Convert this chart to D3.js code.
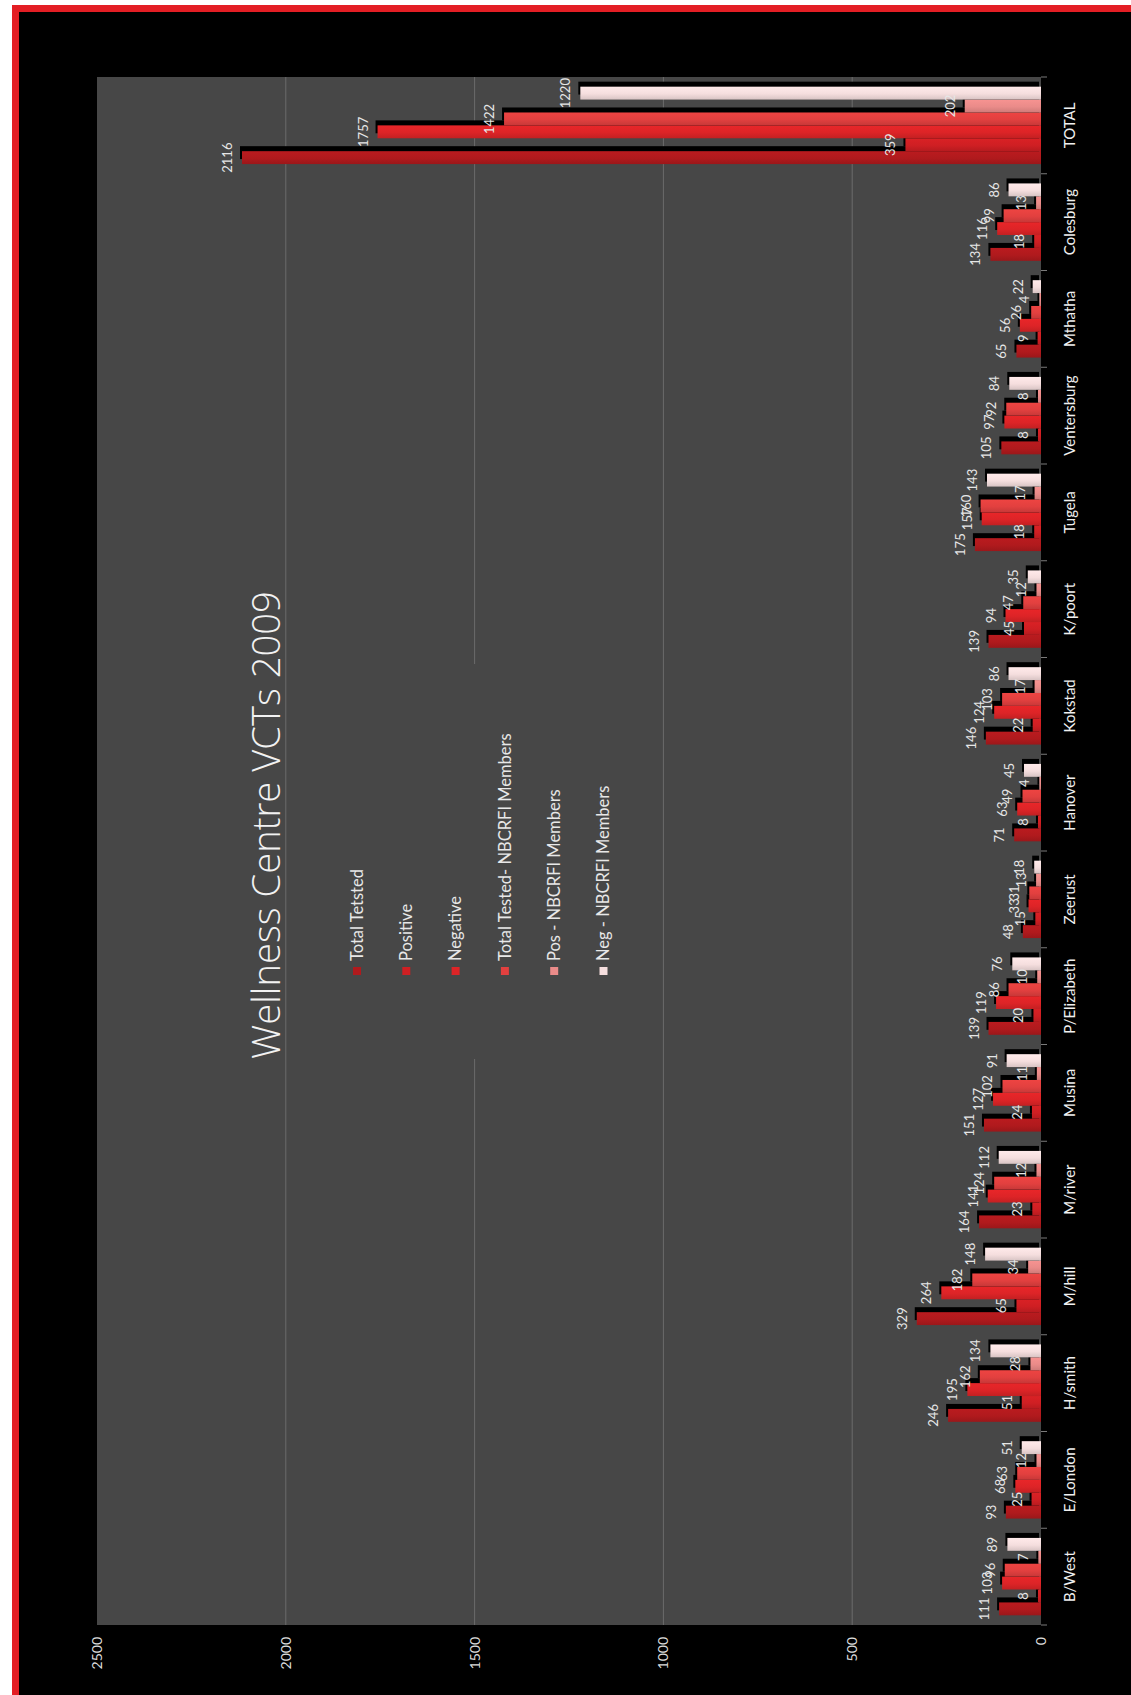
<!DOCTYPE html>
<html><head><meta charset="utf-8">
<script src="https://cdn.jsdelivr.net/npm/d3@7"></script>
<style>html,body{margin:0;padding:0;background:#fff;} svg{display:block;}</style>
</head><body>
<script>
// ---------- DATA ----------
const categories = ["B/West","E/London","H/smith","M/hill","M/river","Musina","P/Elizabeth","Zeerust","Hanover","Kokstad","K/poort","Tugela","Ventersburg","Mthatha","Colesburg","TOTAL"];
const seriesNames = ["Total Tetsted","Positive","Negative","Total Tested- NBCRFI Members","Pos - NBCRFI Members","Neg - NBCRFI Members"];
const totalTested = [111,93,246,329,164,151,139,48,71,146,139,175,105,65,134,2116];
const positive    = [8,25,51,65,23,24,20,15,8,22,45,18,8,9,18,359];
const negative    = [103,68,195,264,141,127,119,33,63,124,94,157,97,56,116,1757];
const totalNB     = [96,63,162,182,124,102,86,31,49,103,47,160,92,26,99,1422];
const posNB       = [7,12,28,34,12,11,10,13,4,17,12,17,8,4,13,202];
const negNB       = [89,51,134,148,112,91,76,18,45,86,35,143,84,22,86,1220];
const valueTicks  = [0,500,1000,1500,2000,2500];
const seriesValues = [totalTested, positive, negative, totalNB, posNB, negNB];
const seriesColors = ["#b01a1d","#cf1f23","#dd2427","#e2403f","#ea8b89","#f5dede"];

// ---------- SETUP ----------
const W = 1131, H = 1695;
const svg = d3.select("body").append("svg").attr("width", W).attr("height", H)
  .style("font-family","Lato, 'Open Sans', sans-serif");
svg.append("rect").attr("width", W).attr("height", H).attr("fill", "#fff");
svg.append("rect").attr("x", 12).attr("y", 5).attr("width", W - 12).attr("height", H - 5).attr("fill", "#e31e24");
svg.append("rect").attr("x", 19).attr("y", 12).attr("width", W - 19).attr("height", H - 12).attr("fill", "#000");

const defs = svg.append("defs");
seriesColors.forEach((c, j) => {
  const lg = defs.append("linearGradient").attr("id", "grad" + j)
    .attr("x1", 0).attr("x2", 1).attr("y1", 0).attr("y2", 0);
  lg.append("stop").attr("offset", "0%").attr("stop-color", d3.color(c).darker(0.35));
  lg.append("stop").attr("offset", "45%").attr("stop-color", c);
  lg.append("stop").attr("offset", "100%").attr("stop-color", d3.color(c).brighter(0.15));
});

// Chart drawn in landscape frame (1695 x 1131), rotated 90deg CCW
const g = svg.append("g").attr("transform", `translate(0,${H}) rotate(-90)`);
const plot = {left: 70, right: 1618, top: 97, bottom: 1041};

g.append("rect").attr("x", plot.left).attr("y", plot.top)
  .attr("width", plot.right - plot.left).attr("height", plot.bottom - plot.top)
  .attr("fill", "#474747");

const x0 = d3.scaleBand().domain(categories).range([plot.left, plot.right]).paddingInner(0).paddingOuter(0);
const x1 = d3.scaleBand().domain(d3.range(seriesNames.length)).range([0, x0.bandwidth()]).paddingInner(0).paddingOuter(0.75);
const y = d3.scaleLinear().domain([0, 2500]).range([plot.bottom, plot.top]);

// gridlines
g.append("g").selectAll("line").data(valueTicks.filter(v => v > 0 && v < 2500)).join("line")
  .attr("x1", plot.left).attr("x2", plot.right)
  .attr("y1", d => y(d)).attr("y2", d => y(d))
  .attr("stroke", "#6c6c6c").attr("stroke-width", 1);

// legend box (hides gridline)
const legendG = g.append("g");
legendG.append("rect").attr("x", 636).attr("y", 335).attr("width", 395).attr("height", 290).attr("fill", "#474747");

// bars with shadows
const barsG = g.append("g");
categories.forEach((cat, i) => {
  seriesValues.forEach((vals, j) => {
    const v = vals[i];
    const bx = x0(cat) + x1(j), bw = x1.bandwidth();
    barsG.append("rect").attr("x", bx + 5).attr("y", y(v) - 2)
      .attr("width", bw).attr("height", y(0) - y(v)).attr("fill", "#000");
    barsG.append("rect").attr("x", bx).attr("y", y(v))
      .attr("width", bw).attr("height", y(0) - y(v)).attr("fill", `url(#grad${j})`);
  });
});
// data labels
const labG = g.append("g");
categories.forEach((cat, i) => {
  seriesValues.forEach((vals, j) => {
    const v = vals[i];
    labG.append("text").attr("x", x0(cat) + x1(j) + x1.bandwidth() / 2).attr("y", y(v) - 10)
      .attr("text-anchor", "middle").attr("fill", "#e6e6e6").attr("font-size", 13).text(v);
  });
});

// category axis
const xAxis = g.append("g").attr("transform", `translate(0,${plot.bottom})`)
  .call(d3.axisBottom(x0).tickSize(0));
xAxis.select(".domain").remove();
xAxis.selectAll("text").attr("y", 29).attr("dy", "0.35em").attr("fill", "#f0f0f0")
  .attr("font-size", 15).style("font-family", "Lato, sans-serif");
const bounds = categories.map(c => x0(c)).concat([plot.right]);
g.append("g").selectAll("line").data(bounds).join("line")
  .attr("x1", d => d).attr("x2", d => d).attr("y1", plot.bottom).attr("y2", plot.bottom + 6)
  .attr("stroke", "#7a7a7a");

// value axis
const yAxis = g.append("g").attr("transform", `translate(${plot.left},0)`)
  .call(d3.axisLeft(y).tickValues(valueTicks).tickFormat(d3.format("d")).tickSize(0).tickPadding(12));
yAxis.select(".domain").remove();
yAxis.selectAll("text").attr("fill", "#dcdcdc").attr("font-size", 14).style("font-family", "Lato, sans-serif");

// title
const title = g.append("text").attr("x", 870).attr("y", 280).attr("text-anchor", "middle")
  .attr("fill", "#f2f2f2").attr("font-size", 42).attr("font-weight", 300)
  .style("font-family", "'Open Sans', Lato, sans-serif")
  .text("Wellness Centre VCTs 2009");
const tl = title.node().getComputedTextLength();
title.attr("font-size", 42 * 468 / tl);

// legend
const legY = d3.range(seriesNames.length).map(j => 357 + j * 49.3);
seriesNames.forEach((name, j) => {
  legendG.append("rect").attr("x", 720).attr("y", legY[j] - 4).attr("width", 8).attr("height", 8)
    .attr("fill", seriesColors[j]);
  legendG.append("text").attr("x", 734).attr("y", legY[j]).attr("dy", "0.35em")
    .attr("fill", "#e8e8e8").attr("font-size", 16.5).text(name);
});
</script>
</body></html>
